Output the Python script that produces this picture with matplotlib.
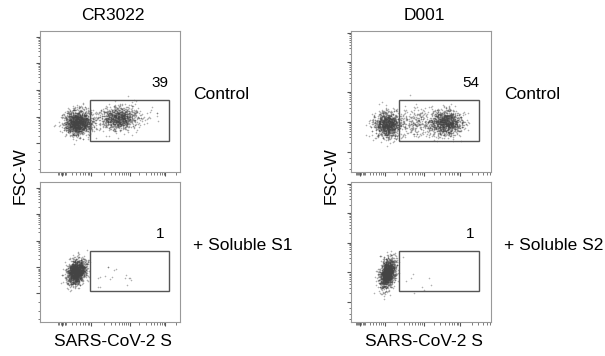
import numpy as np
import matplotlib
matplotlib.use("Agg")
import matplotlib.pyplot as plt
from matplotlib.patches import Rectangle

plt.rcParams["font.family"] = ["Liberation Sans", "DejaVu Sans"]

# antibodies (columns) and conditions (rows)
antibodies = ["CR3022", "D001"]
conditions = ["Control", ["+ Soluble S1", "+ Soluble S2"]]
gate_pct = [[39, 1], [54, 1]]  # [antibody][row]

# gates in axis units (0..100 both axes)
gate_x = [(35.7, 92.0), (34.3, 91.4)]
gate_y = [(22.0, 51.0), (22.0, 51.0)]

# cell populations:
# (x centre, y centre, x sd, y sd, x-y correlation, n events)
pops_cr3022_ctrl = [(27, 35.5, 5.0, 4.3, 0.0, 1500), (56, 38, 6.5, 4.0, 0.0, 950),
                    (68, 40, 10.0, 6.0, 0.0, 60)]
pops_cr3022_s1 = [(26, 36, 3.4, 4.4, 0.25, 1500), (47, 33, 9.0, 5.0, 0.0, 18)]
pops_d001_ctrl = [(26, 33.5, 4.5, 4.5, 0.0, 1100), (47, 35, 8.0, 5.0, 0.0, 300),
                  (68, 35, 5.5, 4.5, 0.0, 1100)]
pops_d001_s2 = [(26, 35, 2.8, 5.2, 0.35, 1500), (45, 30, 8.0, 5.0, 0.0, 8)]
populations = [[pops_cr3022_ctrl, pops_cr3022_s1], [pops_d001_ctrl, pops_d001_s2]]

# log-decade tick positions (axis units)
x_major = [[15.7, 36.5, 64.3, 89.5], [6.4, 24.0, 52.0, 78.0]]
y_major = [[20.6, 39.0, 58.0, 77.3, 95.7], [14.2, 35.5, 56.7, 78.0, 98.6]]

W, H = 605, 356
fig = plt.figure(figsize=(W / 100, H / 100), dpi=100)
rng = np.random.default_rng(7)

axes_px = {  # left, top, right, bottom in pixels
    (0, 0): (40, 31, 180, 172), (0, 1): (40, 182, 180, 322),
    (1, 0): (351, 31, 491, 172), (1, 1): (351, 182, 491, 322),
}


def minor_ticks(majors):
    out = []
    step = np.diff(majors[1:]).mean()
    for m in list(majors[1:]) + [majors[-1] + step]:
        for k in range(2, 10):
            p = m - step + step * np.log10(k)
            if 0 < p < 100:
                out.append(p)
    return out


for col in range(2):
    for row in range(2):
        l, t, r, b = axes_px[(col, row)]
        ax = fig.add_axes([l / W, 1 - b / H, (r - l) / W, (b - t) / H])
        for (cx, cy, sx, sy, rho, n) in populations[col][row]:
            cov = [[sx * sx, rho * sx * sy], [rho * sx * sy, sy * sy]]
            pts = rng.multivariate_normal([cx, cy], cov, n)
            ax.scatter(pts[:, 0], pts[:, 1], s=1.3, c="#444444", alpha=0.42,
                       linewidths=0)
        x0, x1 = gate_x[col]
        y0, y1 = gate_y[col]
        ax.add_patch(Rectangle((x0, y0), x1 - x0, y1 - y0, fill=False,
                               edgecolor="#555555", linewidth=1.0))
        ax.text(x1 - 6, y1 + 12, str(gate_pct[col][row]), ha="center", va="center",
                fontsize=11)
        ax.set_xlim(0, 100)
        ax.set_ylim(0, 100)
        ax.set_xticks(x_major[col])
        ax.set_yticks(y_major[col])
        x0m = x_major[col][0]
        xm = minor_ticks(x_major[col]) + list(np.linspace(x0m - 3, x0m + 3, 7))
        ax.set_xticks(xm, minor=True)
        ax.set_yticks(minor_ticks(y_major[col]) + list(np.linspace(2, y_major[col][0], 4)),
                      minor=True)
        ax.set_xticklabels([])
        ax.set_yticklabels([])
        ax.tick_params(which="major", length=3, width=0.8, color="#555555")
        ax.tick_params(which="minor", length=1.8, width=0.6, color="#666666")
        for s in ax.spines.values():
            s.set_color("#999999")
            s.set_linewidth(0.8)

        label = conditions[row] if row == 0 else conditions[1][col]
        fig.text((r + 13) / W, 1 - ((t + b) / 2 - 7) / H, label, ha="left",
                 va="center", fontsize=12.5)

    cx = axes_px[(col, 0)][0] + 73
    fig.text(cx / W, 1 - 15 / H, antibodies[col], ha="center", va="center", fontsize=12.5)
    fig.text(cx / W, 1 - 342 / H, "SARS-CoV-2 S", ha="center", va="center", fontsize=12.5)
    fig.text((axes_px[(col, 0)][0] - 20) / W, 1 - 176 / H, "FSC-W", ha="center",
             va="center", rotation=90, fontsize=12.5)

fig.savefig("out.png", dpi=100)
